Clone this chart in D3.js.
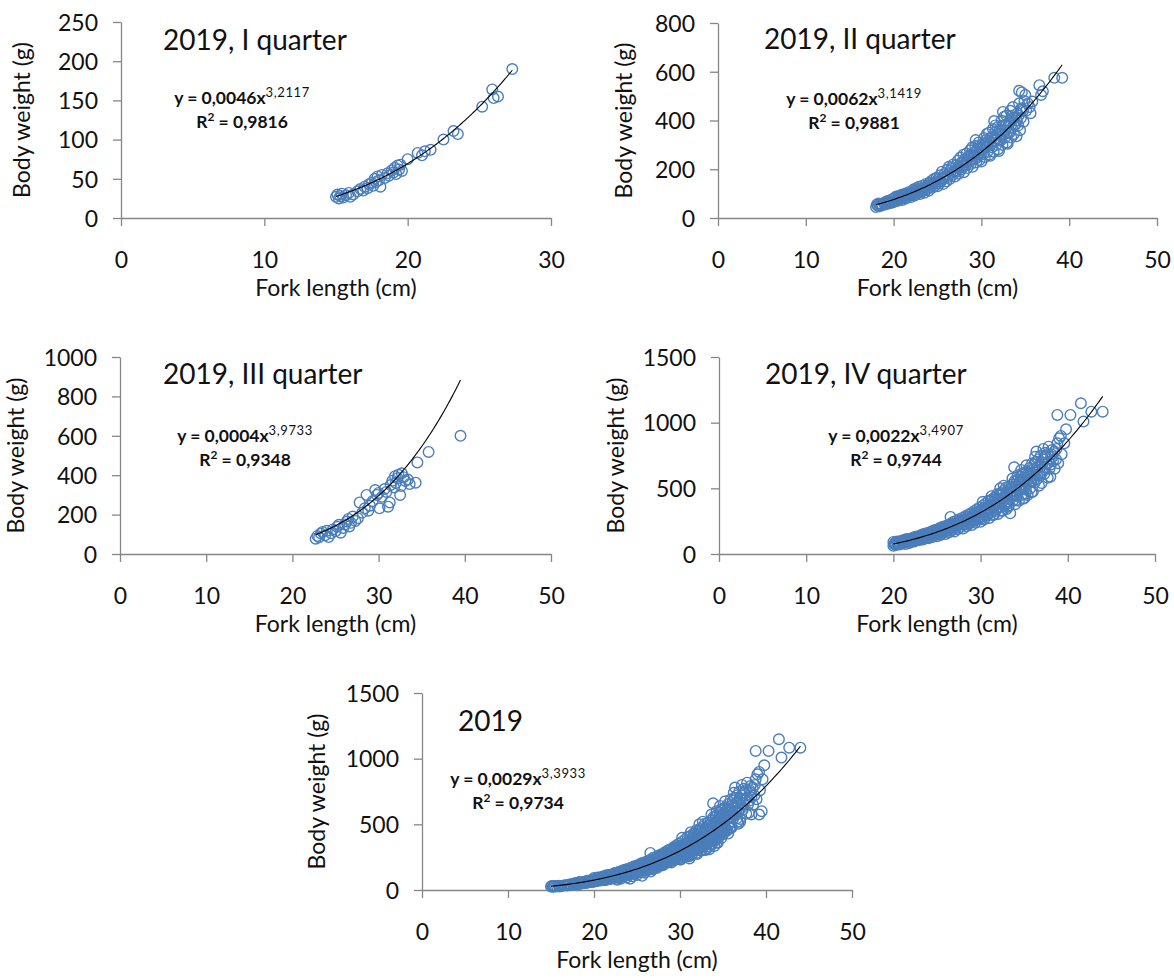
<!DOCTYPE html>
<html>
<head>
<meta charset="utf-8">
<script src="https://cdn.jsdelivr.net/npm/d3@7"></script>
<style>
  html, body { margin: 0; padding: 0; background: #fff; }
  svg { display: block; }
  text { font-family: Lato, "Open Sans", sans-serif; fill: #111; }
</style>
</head>
<body>
<svg id="chart" width="1174" height="978"></svg>
<script>
// Fork length (cm) and body weight (g) of sampled fish, by quarter of 2019
const q1Points = [
  [15.0,27],[15.1,30],[15.2,25],[15.3,28],[15.4,31],[15.5,26],[15.7,29],[15.9,32],[16.0,27],[16.2,30],
  [16.5,34],[16.7,37],[16.9,35],[17.0,40],[17.2,38],[17.3,43],[17.5,45],[17.6,41],[17.7,50],[17.8,46],
  [17.9,53],[18.0,48],[18.1,40],[18.2,55],[18.4,51],[18.6,57],[18.7,54],[18.9,61],[19.0,58],[19.1,64],
  [19.2,56],[19.3,67],[19.4,62],[19.5,68],[19.6,60],[20.0,75],[20.7,83],[21.0,80],[21.2,85],[21.6,87],
  [22.5,100],[23.2,111],[23.5,107],[25.2,142],[25.9,164],[26.0,153],[26.3,155],[27.3,190]
];

const q2Points = [
  [18.0,45],[18.1,55],[18.2,50],[18.3,60],[18.4,48],[18.6,57],[18.7,52],[18.9,62],
  [19.0,55],[19.1,66],[19.2,58],[19.3,70],[19.4,61],[19.6,68],[19.7,74],[19.8,63],[19.9,78],
  [20.0,66],[20.1,82],[20.2,72],[20.3,88],[20.4,70],[20.5,79],[20.6,90],[20.7,76],[20.8,85],[20.9,95],
  [21.0,74],[21.1,92],[21.2,84],[21.3,100],[21.4,80],[21.5,95],[21.6,88],[21.7,106],[21.8,90],[21.9,98],
  [22.0,86],[22.1,110],[22.2,96],[22.3,118],[22.4,92],[22.5,104],[22.6,122],[22.7,100],[22.8,112],[22.9,128],
  [23.0,98],[23.1,120],[23.2,108],[23.3,132],[23.4,114],[23.5,104],[23.6,126],[23.7,140],[23.8,118],[23.9,134],
  [24.0,112],[24.1,145],[24.2,128],[24.3,152],[24.4,124],[24.5,138],[24.6,160],[24.7,132],[24.8,148],[24.9,165],
  [25.0,130],[25.1,158],[25.2,142],[25.3,175],[25.4,150],[25.5,190],[25.6,162],[25.7,140],[25.8,180],[25.9,170],
  [26.0,150],[26.1,198],[26.2,168],[26.3,210],[26.4,160],[26.5,185],[26.6,205],[26.7,176],[26.8,220],[26.9,192],
  [27.0,170],[27.1,215],[27.2,190],[27.3,235],[27.4,182],[27.5,205],[27.6,248],[27.7,198],[27.8,228],[27.9,212],[27.95,260],
  [28.0,188],[28.1,240],[28.2,215],[28.3,265],[28.4,205],[28.5,250],[28.6,230],[28.7,278],[28.8,222],[28.9,258],[28.95,290],
  [29.0,210],[29.1,268],[29.2,240],[29.3,295],[29.4,228],[29.5,275],[29.6,250],[29.7,310],[29.8,238],[29.9,285],[29.35,320],[29.65,262],
  [30.0,232],[30.1,300],[30.2,262],[30.3,328],[30.4,250],[30.5,290],[30.6,345],[30.7,272],[30.8,315],[30.9,260],[30.45,305],[30.85,350],
  [31.0,255],[31.1,330],[31.2,290],[31.3,365],[31.4,272],[31.5,318],[31.6,380],[31.7,300],[31.8,345],[31.9,282],[31.45,398],[31.85,372],
  [32.0,275],[32.1,360],[32.2,318],[32.3,400],[32.4,300],[32.5,345],[32.6,415],[32.7,330],[32.8,380],[32.9,310],[32.45,435],[32.85,420],
  [33.0,305],[33.1,392],[33.2,350],[33.3,440],[33.4,330],[33.5,370],[33.6,455],[33.7,345],[33.8,410],[33.9,385],[33.45,420],
  [34.0,335],[34.1,430],[34.2,380],[34.3,470],[34.4,360],[34.5,410],[34.6,445],[34.8,395],[34.9,480],
  [34.3,522],[34.6,515],[35.0,505],
  [35.1,440],[35.3,470],[35.5,455],[35.6,430],[35.8,478],
  [36.6,545],[36.8,505],[37.0,520],[38.3,575],[39.2,575],
  [18.5,53],[19.25,63],[19.5,60],[20.55,75],[21.15,86],[21.55,92],[22.15,104],[22.55,112],[23.15,115],[23.55,122],
  [24.15,132],[24.55,145],[25.15,150],[25.55,165],[26.15,175],[26.55,195],[27.05,195],[27.35,210],[27.65,225],[28.05,220],
  [28.35,235],[28.65,255],[29.05,245],[29.25,262],[29.55,285],[29.85,300],[30.05,270],[30.25,295],[30.55,320],[30.75,300],
  [31.05,300],[31.25,330],[31.55,350],[31.75,325],[32.05,320],[32.25,355],[32.55,380],[32.75,360],[33.05,350],[33.25,390],
  [33.55,410],[33.75,380],[34.05,400],[34.25,420],[34.55,450],[34.75,440]
];

const q3Points = [
  [22.7,78],[22.9,92],[23.1,85],[23.3,104],[23.5,112],[23.8,95],[24.0,118],[24.2,86],[24.5,105],[24.7,125],
  [25.0,115],[25.2,138],[25.4,148],[25.6,108],[25.9,132],[26.1,150],[26.3,165],[26.5,178],[26.6,140],[26.8,158],
  [27.0,190],[27.3,168],[27.6,182],[27.8,262],[28.1,210],[28.4,232],[28.6,300],[28.8,220],[29.0,245],[29.3,268],
  [29.6,325],[29.8,300],[30.0,310],[30.1,232],[30.4,290],[30.7,330],[30.9,315],[31.1,240],[31.3,262],[31.4,350],
  [31.6,372],[31.8,338],[31.9,395],[32.0,360],[32.2,385],[32.3,402],[32.5,300],[32.6,345],[32.7,410],[32.9,390],
  [33.1,370],[33.4,378],[33.6,355],[34.3,362],[34.5,465],[35.8,518],[39.5,600]
];

const q4Points = [
  [20.0,62],[20.0,92],[20.1,75],[20.2,85],[20.3,68],[20.4,95],[20.5,78],[20.6,88],[20.7,72],[20.9,100],
  [21.0,80],[21.1,98],[21.2,88],[21.3,108],[21.4,76],[21.5,102],[21.6,92],[21.7,115],[21.8,84],[21.9,106],[21.45,112],
  [22.0,90],[22.1,118],[22.2,102],[22.3,126],[22.4,95],[22.5,112],[22.6,132],[22.7,104],[22.8,122],[22.9,138],[22.45,128],
  [23.0,106],[23.1,135],[23.2,118],[23.3,148],[23.4,110],[23.5,130],[23.6,155],[23.7,122],[23.8,142],[23.9,160],[23.55,140],
  [24.0,120],[24.1,158],[24.2,136],[24.3,170],[24.4,128],[24.5,150],[24.6,178],[24.7,140],[24.8,165],[24.9,185],[24.55,162],
  [25.0,135],[25.1,180],[25.2,155],[25.3,196],[25.4,145],[25.5,172],[25.6,205],[25.7,160],[25.8,190],[25.9,212],[25.55,185],
  [26.0,152],[26.1,205],[26.2,175],[26.3,222],[26.4,165],[26.5,195],[26.55,282],[26.6,232],[26.7,180],[26.8,215],[26.9,245],
  [27.0,172],[27.1,232],[27.2,198],[27.3,255],[27.4,188],[27.5,222],[27.6,265],[27.7,205],[27.8,245],[27.9,275],[27.55,240],
  [28.0,195],[28.1,262],[28.2,225],[28.3,290],[28.4,212],[28.5,250],[28.6,298],[28.7,232],[28.8,275],[28.9,310],[28.45,270],[28.85,240],
  [29.0,220],[29.1,295],[29.2,255],[29.3,328],[29.4,238],[29.5,280],[29.6,340],[29.7,262],[29.8,312],[29.9,355],[29.45,300],[29.85,275],
  [30.0,245],[30.1,332],[30.2,285],[30.3,370],[30.4,262],[30.5,315],[30.6,385],[30.7,292],[30.8,350],[30.9,405],[30.45,340],[30.85,300],[30.25,398],
  [31.0,275],[31.1,372],[31.2,320],[31.3,415],[31.4,295],[31.5,352],[31.6,430],[31.7,328],[31.8,392],[31.9,455],[31.45,380],[31.85,340],[31.25,440],
  [32.0,305],[32.1,418],[32.2,358],[32.3,465],[32.4,330],[32.5,395],[32.6,480],[32.7,365],[32.8,438],[32.9,505],[32.45,425],[32.85,378],[32.25,500],[32.65,520],
  [33.0,342],[33.1,465],[33.2,398],[33.3,515],[33.4,310],[33.5,440],[33.6,530],[33.7,405],[33.8,480],[33.85,660],[33.9,555],[33.45,470],[33.25,372],[33.65,575],
  [34.0,380],[34.1,515],[34.2,440],[34.3,570],[34.4,405],[34.5,488],[34.6,590],[34.7,450],[34.8,530],[34.9,615],[34.45,545],[34.85,420],[34.25,600],[34.65,640],
  [35.0,425],[35.1,570],[35.2,490],[35.3,630],[35.4,450],[35.5,540],[35.6,655],[35.7,500],[35.8,590],[35.9,690],[35.45,610],[35.85,470],[35.25,675],
  [36.0,475],[36.1,625],[36.2,545],[36.3,700],[36.4,780],[36.5,600],[36.6,720],[36.7,520],[36.8,660],[36.9,750],[36.45,570],[36.25,740],
  [37.0,540],[37.1,690],[37.2,800],[37.3,610],[37.5,740],[37.6,690],[37.7,580],[37.8,817],[37.9,650],[37.4,770],
  [38.0,589],[38.1,760],[38.2,792],[38.3,706],[38.5,650],[38.7,800],[38.8,843],[38.9,691],
  [39.0,881],[39.2,899],[39.6,843],[39.8,950],[38.8,1059],[40.3,1059],[41.5,1148],[41.8,1008],[42.7,1084],[44.0,1084],[39.3,760],
  [20.25,80],[20.75,82],[21.25,96],[21.75,100],[22.25,112],[22.75,118],[23.25,128],[23.75,135],[24.25,148],[24.75,152],
  [25.15,168],[25.35,150],[25.65,178],[25.85,200],[26.05,180],[26.25,198],[26.45,210],[26.65,190],[26.85,228],[27.05,205],
  [27.25,218],[27.45,240],[27.65,228],[27.85,258],[28.05,232],[28.25,248],[28.55,282],[28.75,262],[28.95,285],[29.05,262],
  [29.15,250],[29.25,285],[29.55,318],[29.75,295],[29.95,330],[30.05,290],[30.15,270],[30.35,320],[30.55,355],[30.75,330],
  [30.95,370],[31.05,330],[31.15,405],[31.35,360],[31.55,395],[31.55,300],[31.65,365],[31.75,420],[31.95,390],[32.05,360],
  [32.15,445],[32.35,410],[32.55,455],[32.55,330],[32.75,420],[32.95,470],[33.05,400],[33.15,490],[33.15,360],[33.35,450],
  [33.55,500],[33.75,445],[33.95,510],[34.05,450],[34.05,410],[34.15,560],[34.35,500],[34.55,560],[34.75,495],[34.95,570],
  [35.05,500],[35.15,620],[35.15,460],[35.35,560],[35.55,600],[35.75,550],[35.95,640],[36.05,560],[36.15,680],[36.35,620],
  [36.55,660],[36.75,600],[36.95,700],[37.05,620],[37.25,720],[37.45,660],[37.65,760],[37.85,700],[38.05,680],[38.25,740],
  [38.45,780],[38.65,720]
];

const panelTitles = ["2019, I quarter", "2019, II quarter", "2019, III quarter", "2019, IV quarter", "2019"];
const xAxisMax = [30, 50, 50, 50, 50];
const xTickStep = [10, 10, 10, 10, 10];
const yAxisMax = [250, 800, 1000, 1500, 1500];
const yTickStep = [50, 200, 200, 500, 500];
// Power-law fits W = a * L^b and their R²
const fitCoef = [0.0046, 0.0062, 0.0004, 0.0022, 0.0029];
const fitExp = [3.2117, 3.1419, 3.9733, 3.4907, 3.3933];
const fitR2 = [0.9816, 0.9881, 0.9348, 0.9744, 0.9734];
const xAxisTitle = "Fork length (cm)";
const yAxisTitle = "Body weight (g)";

// The yearly panel holds every quarter's fish
const allPoints = [].concat(q1Points, q2Points, q3Points, q4Points);
const panelPoints = [q1Points, q2Points, q3Points, q4Points, allPoints];

// Panel placement on the page
const layout = [
  { x0: 121, x1: 551,  top: 22,  bottom: 218, titleX: 163, titleY: 50,  eqX: 242, eqY: 104, yTitleX: 30 },
  { x0: 718, x1: 1157, top: 23,  bottom: 218, titleX: 764, titleY: 49,  eqX: 854, eqY: 105, yTitleX: 632 },
  { x0: 120, x1: 551,  top: 357, bottom: 554, titleX: 163, titleY: 384, eqX: 245, eqY: 442, yTitleX: 24 },
  { x0: 719, x1: 1155, top: 357, bottom: 554, titleX: 765, titleY: 384, eqX: 896, eqY: 442, yTitleX: 624 },
  { x0: 422, x1: 852,  top: 693, bottom: 890, titleX: 458, titleY: 731, eqX: 518, eqY: 785, yTitleX: 325 }
];

const AXIS_COLOR = "#868686";
const MARKER_COLOR = "#4a7ebb";
const fmt = v => v.toFixed(4).replace(".", ",");

const svg = d3.select("#chart");

layout.forEach((L, i) => {
  const pts = panelPoints[i];
  const g = svg.append("g").attr("class", "panel");

  const x = d3.scaleLinear().domain([0, xAxisMax[i]]).range([L.x0, L.x1]);
  const y = d3.scaleLinear().domain([0, yAxisMax[i]]).range([L.bottom, L.top]);

  // y axis
  const yAxis = d3.axisLeft(y)
    .tickValues(d3.range(0, yAxisMax[i] + 1, yTickStep[i]))
    .tickSize(8).tickSizeOuter(0).tickPadding(15)
    .tickFormat(d3.format("d"));
  const gy = g.append("g").attr("transform", `translate(${L.x0},0)`).call(yAxis);
  gy.selectAll("text").attr("font-size", 23).attr("dy", "0.36em")
    .style("font-family", "Lato, 'Open Sans', sans-serif").attr("fill", "#111");

  // x axis
  const xAxis = d3.axisBottom(x)
    .tickValues(d3.range(0, xAxisMax[i] + 1, xTickStep[i]))
    .tickSize(8).tickSizeOuter(0)
    .tickFormat(d3.format("d"));
  const gx = g.append("g").attr("transform", `translate(0,${L.bottom})`).call(xAxis);
  gx.selectAll("text").attr("font-size", 23).attr("y", 50).attr("dy", null)
    .style("font-family", "Lato, 'Open Sans', sans-serif").attr("fill", "#111");

  g.selectAll(".domain, .tick line")
    .attr("stroke", AXIS_COLOR).attr("stroke-width", 1.3);

  // scatter of individual fish
  g.append("g").selectAll("circle")
    .data(pts)
    .join("circle")
    .attr("cx", d => x(d[0]))
    .attr("cy", d => y(d[1]))
    .attr("r", 5.3)
    .attr("fill", "none")
    .attr("stroke", MARKER_COLOR)
    .attr("stroke-width", 1.4);

  // fitted power curve across the observed length range
  const [lo, hi] = d3.extent(pts, d => d[0]);
  const xs = d3.range(0, 121).map(k => lo + (hi - lo) * k / 120);
  const curve = d3.line()
    .x(len => x(len))
    .y(len => y(fitCoef[i] * Math.pow(len, fitExp[i])));
  g.append("path")
    .datum(xs)
    .attr("d", curve)
    .attr("fill", "none")
    .attr("stroke", "#000")
    .attr("stroke-width", 1.1);

  // panel title
  g.append("text")
    .attr("x", L.titleX).attr("y", L.titleY)
    .attr("font-size", 28)
    .text(panelTitles[i]);

  // regression equation and R²
  const eq = g.append("text")
    .attr("x", L.eqX).attr("y", L.eqY)
    .attr("text-anchor", "middle")
    .attr("font-size", 17.5).attr("font-weight", 700);
  eq.append("tspan").text(`y = ${fmt(fitCoef[i])}x`);
  eq.append("tspan").attr("dy", -7).attr("font-size", 13).attr("font-weight", 400)
    .attr("letter-spacing", 0.6).text(fmt(fitExp[i]));

  const r2 = g.append("text")
    .attr("x", L.eqX).attr("y", L.eqY + 24)
    .attr("text-anchor", "middle")
    .attr("font-size", 17.5).attr("font-weight", 700);
  r2.append("tspan").text("R");
  r2.append("tspan").attr("dy", -7).attr("font-size", 12).text("2");
  r2.append("tspan").attr("dy", 7).text(` = ${fmt(fitR2[i])}`);

  // axis titles
  g.append("text")
    .attr("x", (L.x0 + L.x1) / 2).attr("y", L.bottom + 78)
    .attr("text-anchor", "middle").attr("font-size", 23)
    .text(xAxisTitle);
  g.append("text")
    .attr("transform", `translate(${L.yTitleX},${(L.top + L.bottom) / 2}) rotate(-90)`)
    .attr("text-anchor", "middle").attr("font-size", 23)
    .text(yAxisTitle);
});
</script>
</body>
</html>
